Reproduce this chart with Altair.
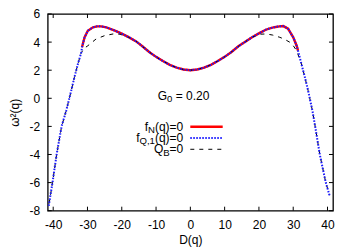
import altair as alt
import pandas as pd

# ---------------- data ----------------
fn_x = [-31.6, -30.85, -29.9, -28.4, -27.2, -26, -24.5, -22, -20, -18, -15.8, -14, -12, -10, -8, -6, -4, -2, 0,
        2, 4, 6, 8, 10, 12, 14, 16, 18, 20, 22, 23.2, 24.5, 26, 27.1, 28.5, 30.0, 31.0, 31.4]
fn_y = [3.63, 4.34, 4.81, 5.05, 5.12, 5.12, 5.05, 4.82, 4.6, 4.35, 4.05, 3.7, 3.3, 2.95, 2.65, 2.38, 2.18, 2.05, 2.0,
        2.05, 2.18, 2.38, 2.65, 2.95, 3.3, 3.7, 4.02, 4.35, 4.62, 4.88, 4.98, 5.06, 5.12, 5.14, 4.95, 4.34, 3.74, 3.39]

fq_x = [-41.3, -40.2, -39.0, -37.55, -36.2, -35.7, -34.75, -33.8, -32.8, -31.8,
        -31.6, -30.85, -29.9, -28.4, -27.2, -26, -24.5, -22, -20, -18, -15.8, -14, -12, -10, -8, -6, -4, -2, 0,
        2, 4, 6, 8, 10, 12, 14, 16, 18, 20, 22, 23.2, 24.5, 26, 27.1, 28.5, 30.0, 31.0, 31.4,
        32.4, 33.4, 34.35, 35.6, 36.4, 37.75, 39.5, 40.7]
fq_y = [-7.65, -6.0, -4.0, -2.0, -0.88, -0.4, 0.54, 1.5, 2.44, 3.27,
        3.63, 4.34, 4.81, 5.05, 5.12, 5.12, 5.05, 4.82, 4.6, 4.35, 4.05, 3.7, 3.3, 2.95, 2.65, 2.38, 2.18, 2.05, 2.0,
        2.05, 2.18, 2.38, 2.65, 2.95, 3.3, 3.7, 4.02, 4.35, 4.62, 4.88, 4.98, 5.06, 5.12, 5.14, 4.95, 4.34, 3.74, 3.39,
        2.44, 1.5, 0.54, -0.88, -2.0, -4.0, -6.0, -7.0]

qb_x = [-41.2, -40.2, -39.0, -37.55, -36.2, -34.75, -33.8, -32.8, -31.9, -31.0, -29.9, -27.5, -25, -22.5, -20.5,
        -18, -15.8, -14, -12, -10, -8, -6, -4, -2, 0, 2, 4, 6, 8, 10, 12, 14, 16, 18, 20, 22.2, 24, 26.1, 27.5,
        29, 30, 31, 32.4, 33.4, 34.35, 35.6, 36.4, 37.75, 39.5, 40.6]
qb_y = [-7.5, -6.0, -4.0, -2.0, -0.88, 0.54, 1.5, 2.44, 3.2, 3.55, 3.74, 4.22, 4.46, 4.58, 4.56,
        4.35, 4.05, 3.7, 3.3, 2.95, 2.65, 2.38, 2.18, 2.05, 2.0, 2.05, 2.18, 2.38, 2.65, 2.95, 3.3, 3.7, 4.02, 4.35,
        4.56, 4.58, 4.5, 4.34, 4.2, 3.99, 3.75, 3.39, 2.44, 1.5, 0.54, -0.88, -2.0, -4.0, -6.0, -6.9]

x_ticks = [-40, -30, -20, -10, 0, 10, 20, 30, 40]
y_ticks = [-8, -6, -4, -2, 0, 2, 4, 6]

x_title = "D(q)"
y_title = "\u03c9\u00b2(q)"
annot = [("G", 0), ("0", 1), ("= 0.20", 0)]
legend_rows = [
    [("f", 0), ("N", 1), ("(q)=0", 0)],
    [("f", 0), ("Q,1", 1), ("(q)=0", 0)],
    [("Q", 0), ("B", 1), ("=0", 0)],
]

# ---------------- layout ----------------
W, H = 285.3, 196.7
XD = [-41.6, 41.6]
YD = [-8, 6]
FONT = "Liberation Sans"
FS, SFS = 12, 9.6

HELV = {"f": 278, "N": 722, "(": 333, "q": 556, ")": 333, "=": 584, "0": 556, "Q": 778, ",": 278,
        "1": 556, "B": 667, "G": 778, " ": 278, ".": 278, "2": 556}


def tw(s, size):
    return sum(HELV.get(c, 556) for c in s) * size / 1000.0


def px2x(p):
    return XD[0] + p / W * (XD[1] - XD[0])


def py2y(p):
    return YD[1] - p / H * (YD[1] - YD[0])


def segments(parts, x0, y0, sub_dy):
    rows = []
    x = x0
    for t, sub in parts:
        size = SFS if sub else FS
        if t.startswith("= 0"):
            x += tw(" ", FS)
        rows.append({"t": t, "x": px2x(x), "y": py2y(y0 + (sub_dy if sub else 0)), "fs": size})
        x += tw(t, size)
    return rows


text_rows = segments(annot, 110.0, 81.7, 3.0)
row_y = [112.7, 124.0, 135.3]
right_end = 135.6
for parts, yy in zip(legend_rows, row_y):
    total = sum(tw(t, SFS if s else FS) for t, s in parts)
    text_rows += segments(parts, right_end - total, yy, 3.5)
text_df = pd.DataFrame(text_rows)

xs = alt.Scale(domain=XD, nice=False, zero=False)
ys = alt.Scale(domain=YD, nice=False, zero=False)

fn_df = pd.DataFrame({"x": fn_x, "y": fn_y, "i": range(len(fn_x))})
fq_df = pd.DataFrame({"x": fq_x, "y": fq_y, "i": range(len(fq_x))})
qb_df = pd.DataFrame({"x": qb_x, "y": qb_y, "i": range(len(qb_x))})

x_axis = alt.Axis(values=x_ticks, tickSize=0, domain=False, grid=False, labelPadding=9,
                  labelOverlap=False, labelFlush=False, labelBound=False,
                  labelFont=FONT, labelFontSize=FS, labelColor="black",
                  labelExpr="replace(datum.label, '\u2212', '-')",
                  titleFont=FONT, titleFontSize=FS, titleFontWeight="normal", titleColor="black",
                  titleX=W / 2, titleY=29, titleBaseline="middle")
y_axis = alt.Axis(values=y_ticks, tickSize=0, domain=False, grid=False, labelPadding=8,
                  labelOverlap=False, labelFlush=False, labelBound=False,
                  labelFont=FONT, labelFontSize=FS, labelColor="black",
                  labelExpr="replace(datum.label, '\u2212', '-')",
                  titleFont=FONT, titleFontSize=FS, titleFontWeight="normal", titleColor="black",
                  titleX=-33, titleY=H / 2, titleBaseline="middle", titleAlign="center", titleAngle=-90)


def X(field="x"):
    return alt.X(f"{field}:Q", scale=xs, axis=x_axis, title=x_title)


def Y(field="y"):
    return alt.Y(f"{field}:Q", scale=ys, axis=y_axis, title=y_title)


red = alt.Chart(fn_df).mark_line(color="#ff0000", strokeWidth=2.4, strokeCap="butt").encode(
    x=X(), y=Y(), order="i:Q")
black = alt.Chart(qb_df).mark_line(color="black", strokeWidth=1, strokeDash=[4, 5], strokeCap="butt").encode(
    x=X(), y=Y(), order="i:Q")
blue = alt.Chart(fq_df).mark_line(color="#1a1aff", strokeWidth=2, strokeDash=[1.5, 1.5], strokeCap="butt").encode(
    x=X(), y=Y(), order="i:Q")

xt_df = pd.DataFrame({"x": x_ticks})
yt_df = pd.DataFrame({"y": y_ticks})
TL = 4
tick_b = alt.Chart(xt_df).mark_rule(color="black", strokeWidth=1).encode(
    x=X(), y=alt.value(H), y2=alt.value(H - TL))
tick_t = alt.Chart(xt_df).mark_rule(color="black", strokeWidth=1).encode(
    x=X(), y=alt.value(0), y2=alt.value(TL))
tick_l = alt.Chart(yt_df).mark_rule(color="black", strokeWidth=1).encode(
    y=Y(), x=alt.value(0), x2=alt.value(TL))
tick_r = alt.Chart(yt_df).mark_rule(color="black", strokeWidth=1).encode(
    y=Y(), x=alt.value(W - TL), x2=alt.value(W))

texts = alt.Chart(text_df).mark_text(font=FONT, align="left", baseline="middle", color="black").encode(
    x=X(), y=Y(),
    text="t:N",
    size=alt.Size("fs:Q", scale=None, legend=None),
)

LX0, LX1 = 142.6, 175.0
leg_red = alt.Chart(pd.DataFrame({"a": [0]})).mark_rule(color="#ff0000", strokeWidth=2.4, strokeCap="butt").encode(
    x=alt.value(LX0), x2=alt.value(LX1), y=alt.value(row_y[0]))
leg_blue = alt.Chart(pd.DataFrame({"a": [0]})).mark_rule(color="#1a1aff", strokeWidth=2, strokeDash=[1.5, 1.5],
                                                        strokeCap="butt").encode(
    x=alt.value(LX0), x2=alt.value(LX1), y=alt.value(row_y[1]))
leg_black = alt.Chart(pd.DataFrame({"a": [0]})).mark_rule(color="black", strokeWidth=1, strokeDash=[4, 5],
                                                         strokeCap="butt").encode(
    x=alt.value(LX0), x2=alt.value(LX1), y=alt.value(row_y[2]))

chart = alt.layer(red, black, blue, tick_b, tick_t, tick_l, tick_r, texts, leg_red, leg_blue, leg_black).properties(
    width=W, height=H,
    autosize=alt.AutoSizeParams(type="none"),
    padding={"left": 39.7, "top": 6, "right": 10, "bottom": 40},
    background="white",
).configure_view(stroke="black", strokeWidth=1.3).configure_axis(labelOverlap=False, labelFlush=False)

chart.save("out.html", embed_options={"renderer": "svg", "actions": False})
